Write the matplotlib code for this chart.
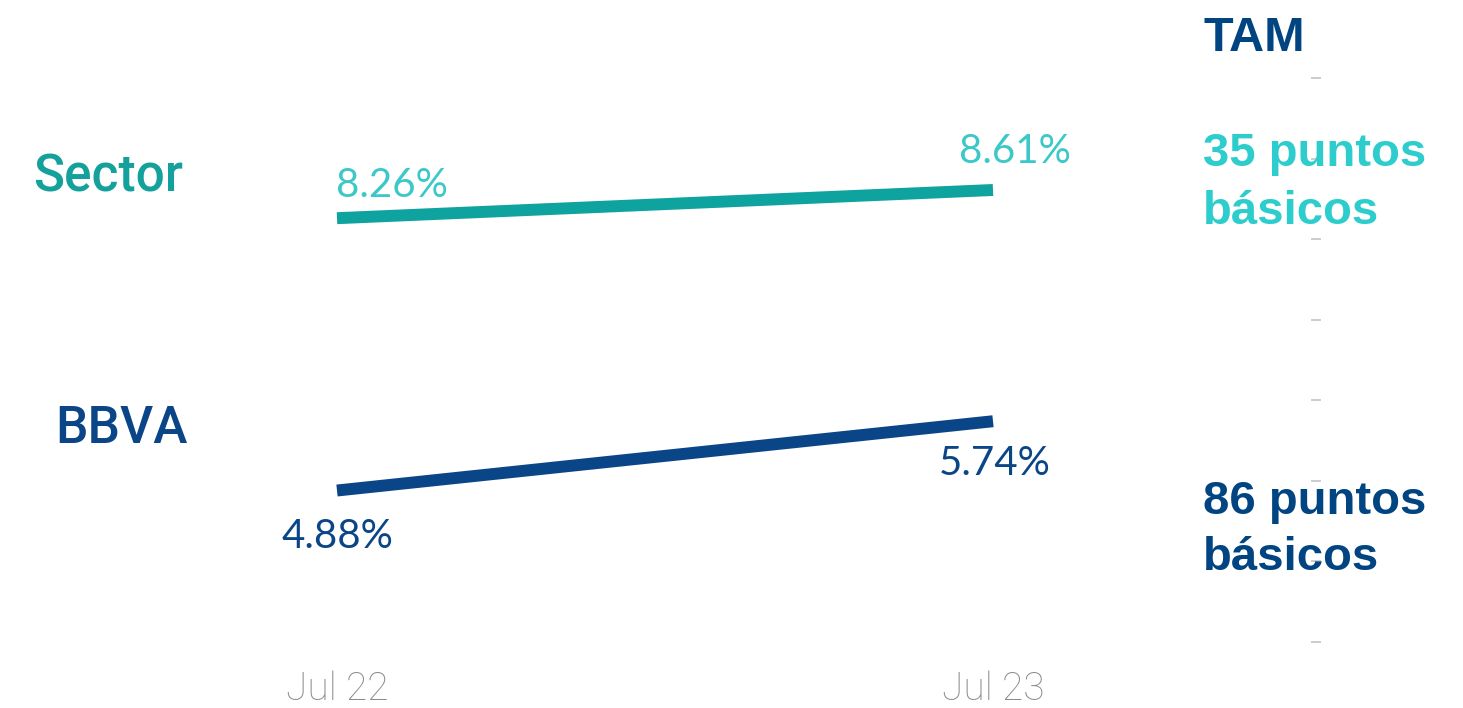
import matplotlib
matplotlib.use("Agg")
import matplotlib.pyplot as plt

# data
periods = ["Jul 22", "Jul 23"]
sector = [8.26, 8.61]
bbva = [4.88, 5.74]
y_ticks = [3, 4, 5, 6, 7, 8, 9, 10]
tam_sector = "35 puntos"
tam_bbva = "86 puntos"

W, H = 1463, 708
fig = plt.figure(figsize=(W / 100, H / 100), dpi=100)
ax = fig.add_axes([0, 43 / H, 1316 / W, 1 - 43 / H])

c_sector = "#0fa3a0"
c_sector_lbl = "#3cc8c8"
c_bbva = "#0a4587"
c_aqua = "#2dcccd"
c_navy = "#004481"

x = list(range(len(periods)))
ax.plot(x, sector, color=c_sector, lw=8.6, solid_capstyle="butt")
ax.plot(x, bbva, color=c_bbva, lw=8.6, solid_capstyle="butt")

ax.set_xlim(-337 / 656, (1316 - 337) / 656)
ax.set_ylim(10 - (665 - 78) / 80.57, 10 + 78 / 80.57)

# value labels (offsets in pixels from the points)
val_font = dict(family=["Lato", "DejaVu Sans"], fontsize=29)
offs_sector = [(55, 21), (22, 27)]
offs_bbva = [(0, -57), (2, -54)]
for xi, v, off in zip(x, sector, offs_sector):
    ax.annotate(f"{v:.2f}%", (xi, v), xytext=off, textcoords="offset pixels",
                ha="center", va="baseline", color=c_sector_lbl, **val_font)
for xi, v, off in zip(x, bbva, offs_bbva):
    ax.annotate(f"{v:.2f}%", (xi, v), xytext=off, textcoords="offset pixels",
                ha="center", va="baseline", color=c_bbva, **val_font)

# axes styling
for s in ax.spines.values():
    s.set_visible(False)
ax.set_xticks(x, periods)
ax.tick_params(axis="x", length=0, pad=4, labelsize=28, labelcolor="#8c8c8c")
for lbl in ax.get_xticklabels():
    lbl.set_family(["Roboto", "DejaVu Sans"])
    lbl.set_fontweight("light")
ax.yaxis.tick_right()
ax.set_yticks(y_ticks)
ax.tick_params(axis="y", direction="inout", length=7.5, width=1.2,
               color="#c4c4c4", labelright=False, labelleft=False)

# series names on the left
name_font = dict(family=["Roboto", "DejaVu Sans"], fontsize=37, weight="medium")
fig.text(33 / W, 1 - 191 / H, "Sector", color="#14a19b", va="baseline", **name_font)
fig.text(55 / W, 1 - 443 / H, "BBVA", color=c_bbva, va="baseline", **name_font)

# TAM column on the right
tam_font = dict(family=["Liberation Sans", "DejaVu Sans"], weight="bold")
fig.text(1203 / W, 1 - 51 / H, "TAM", color=c_navy, fontsize=35, va="baseline", **tam_font)
fig.text(1203 / W, 1 - 166 / H, tam_sector, color=c_aqua, fontsize=34, va="baseline", **tam_font)
fig.text(1203 / W, 1 - 224 / H, "básicos", color=c_aqua, fontsize=34, va="baseline", **tam_font)
fig.text(1203 / W, 1 - 514 / H, tam_bbva, color=c_navy, fontsize=34, va="baseline", **tam_font)
fig.text(1203 / W, 1 - 570 / H, "básicos", color=c_navy, fontsize=34, va="baseline", **tam_font)

fig.savefig("out.png", dpi=100)
